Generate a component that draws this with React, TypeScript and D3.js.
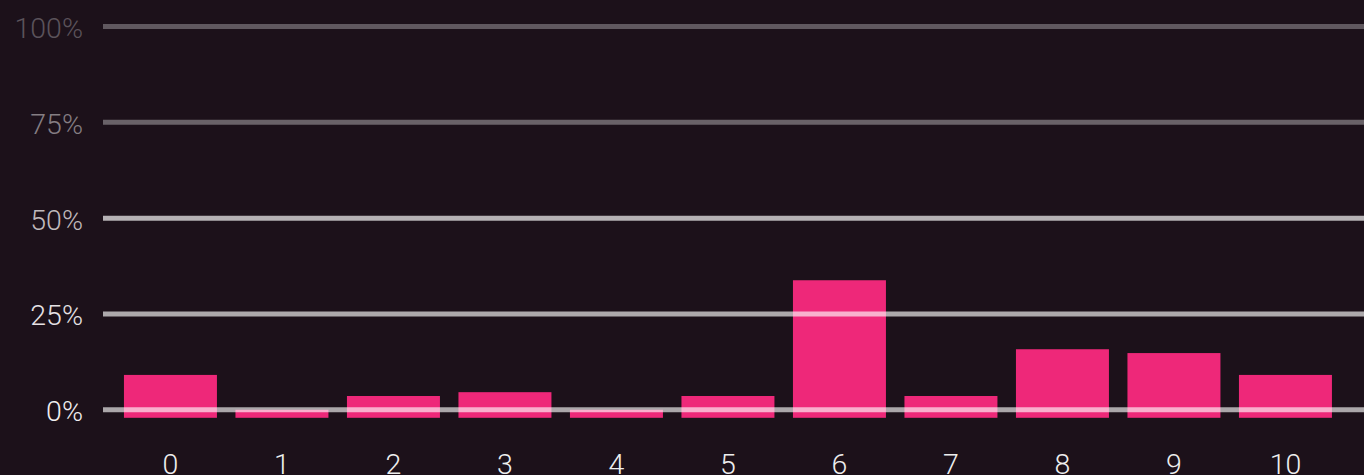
import React from "react";
import * as d3 from "d3";

const categories: string[] = ["0", "1", "2", "3", "4", "5", "6", "7", "8", "9", "10"];
const values: number[] = [0.091, 0, 0.036, 0.046, 0, 0.036, 0.338, 0.036, 0.158, 0.148, 0.091];
const yTicks: number[] = [0, 0.25, 0.5, 0.75, 1];
const gridOpacity: number[] = [0.63, 0.64, 0.68, 0.34, 0.3];
const labelColors: string[] = ["#f0eef0", "#e6e2e5", "#c0babd", "#857e83", "#5b535a"];

const W = 1364;
const H = 475;

export default function App() {
  const x = d3
    .scaleBand<string>()
    .domain(categories)
    .range([114.7, 1341.2])
    .paddingInner(0.166)
    .paddingOuter(0.083);
  const y = d3.scaleLinear().domain([0, 1]).range([409.8, 26.5]);
  const below = 8;
  const fmt = d3.format(".0%");

  return (
    <div style={{ position: "absolute", left: 0, top: 0 }}>
      <svg width={W} height={H} style={{ display: "block" }}>
        <rect x={0} y={0} width={W} height={H} fill="#1c111a" />
        {values.map((v, i) => (
          <rect
            key={"b" + i}
            x={x(categories[i])}
            y={y(v)}
            width={x.bandwidth()}
            height={y(0) - y(v) + below}
            fill="#ee2879"
          />
        ))}
        {yTicks.map((t, i) => (
          <g key={"t" + i}>
            <line
              x1={103}
              x2={W}
              y1={y(t)}
              y2={y(t)}
              stroke="#ffffff"
              strokeOpacity={gridOpacity[i]}
              strokeWidth={5}
            />
            <text
              x={83}
              y={y(t) + 11.5}
              textAnchor="end"
              fill={labelColors[i]}
              fontFamily="Roboto, sans-serif"
              fontWeight={300}
              fontSize={28.5}
            >
              {fmt(t)}
            </text>
          </g>
        ))}
        {categories.map((c, i) => (
          <text
            key={"x" + i}
            x={(x(c) as number) + x.bandwidth() / 2}
            y={474}
            textAnchor="middle"
            fill="#eeeeee"
            fontFamily="Roboto, sans-serif"
            fontWeight={300}
            fontSize={28.5}
          >
            {c}
          </text>
        ))}
      </svg>
    </div>
  );
}
